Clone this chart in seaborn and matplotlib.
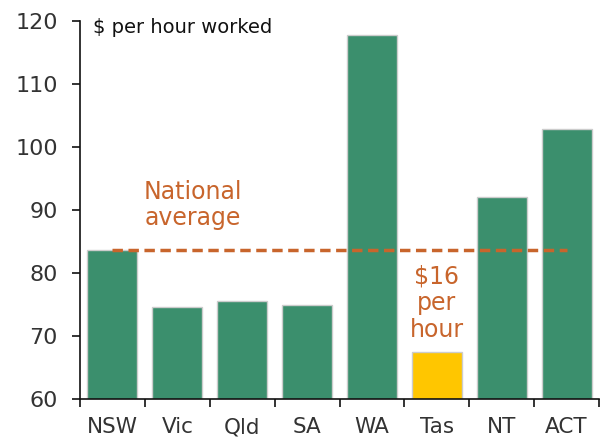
import numpy as np
import pandas as pd
import matplotlib
matplotlib.use("Agg")
import matplotlib.pyplot as plt
import seaborn as sns

# data
states = ["NSW", "Vic", "Qld", "SA", "WA", "Tas", "NT", "ACT"]
values = [83.7, 74.6, 75.5, 74.9, 117.7, 67.5, 92.0, 102.8]
national_avg = 83.6

green = "#3b8f6d"
yellow = "#ffc600"
orange = "#c8652c"
text_col = "#333333"

sns.set_style("white")
plt.rcParams["font.family"] = ["DejaVu Sans"]

df = pd.DataFrame({"State": states, "Value": values})
palette = {s: (yellow if s == "Tas" else green) for s in states}

fig = plt.figure(figsize=(6.06, 4.45), dpi=100)
ax = fig.add_axes([80 / 606, 1 - 399 / 445, 519 / 606, 378 / 445])

sns.barplot(data=df, x="State", y="Value", hue="State", palette=palette,
            saturation=1, width=0.77, edgecolor="#cccccc", linewidth=1,
            legend=False, ax=ax)

ax.plot([0, 7], [national_avg, national_avg], color=orange, lw=2.5,
        ls=(0, (3, 1.6)), zorder=5)

ax.set_ylim(60, 120)
ax.set_xlim(-0.5, 7.5)
ax.set_yticks(range(60, 121, 10))
ax.set_xticks(np.arange(-0.5, 8, 1), minor=True)
ax.set_xlabel("")
ax.set_ylabel("")

for s in ["top", "right"]:
    ax.spines[s].set_visible(False)
for s in ["left", "bottom"]:
    ax.spines[s].set_color("#111111")
    ax.spines[s].set_linewidth(1.2)

ax.tick_params(axis="y", direction="out", length=6, width=1.2, color="#111111",
               labelsize=16, labelcolor=text_col, pad=10, left=True)
ax.tick_params(axis="x", which="major", length=0, labelsize=15.5,
               labelcolor=text_col, pad=13)
ax.tick_params(axis="x", which="minor", direction="out", length=6, width=1.2,
               color="#111111", bottom=True)

ax.text(-0.3, 118.9, "$ per hour worked", fontsize=14,
        color="#111111", va="center", ha="left")
ax.text(1.24, 90.8, "National\naverage", fontsize=17, color=orange,
        ha="center", va="center", linespacing=1.15)
ax.text(5, 75.2, "$16\nper\nhour", fontsize=17, color=orange,
        ha="center", va="center", linespacing=1.15)

fig.savefig("out.png", dpi=100)
